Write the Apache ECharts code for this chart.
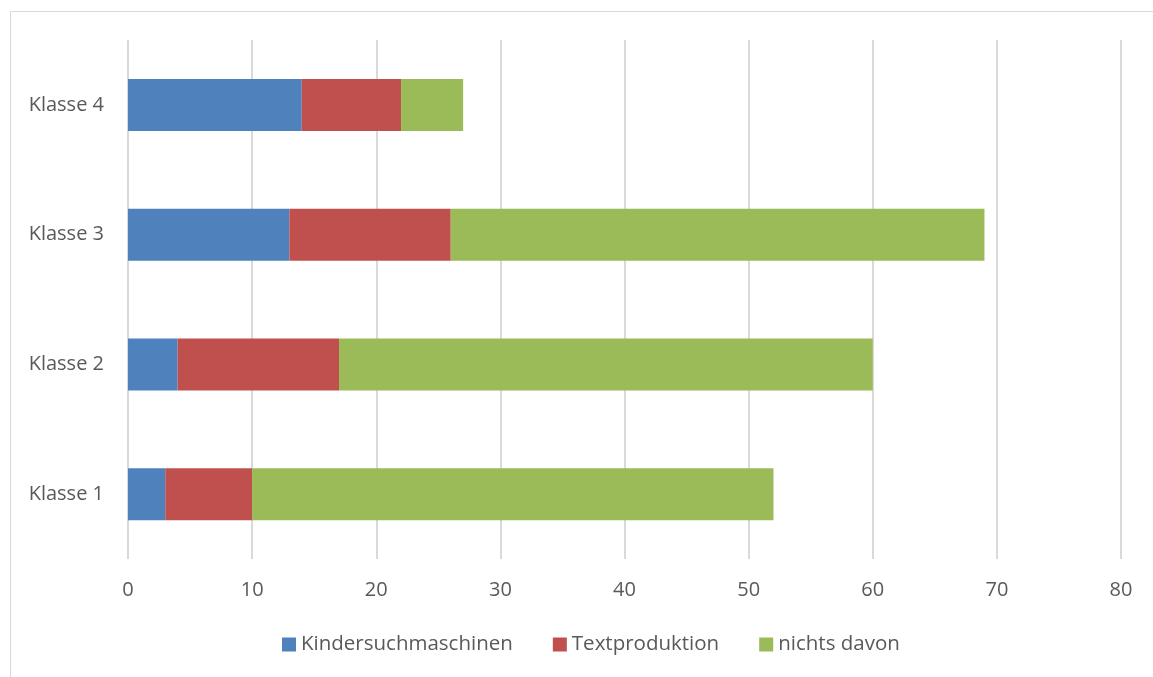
<!DOCTYPE html>
<html>
<head>
<meta charset="utf-8">
<script src="https://cdn.jsdelivr.net/npm/echarts@6/dist/echarts.min.js"></script>
<style>
  html, body { margin: 0; padding: 0; background: #fff; }
  #frame { position: absolute; left: 10px; top: 11px; width: 1160px; height: 700px;
           border: 1px solid #d9d9d9; box-sizing: border-box; }
  #chart { position: absolute; left: 0; top: 0; width: 1153px; height: 677px; }
</style>
</head>
<body>
<div id="frame"></div>
<div id="chart"></div>
<script>
const categories = ['Klasse 1', 'Klasse 2', 'Klasse 3', 'Klasse 4'];
const seriesNames = ['Kindersuchmaschinen', 'Textproduktion', 'nichts davon'];
const kindersuchmaschinen = [3, 4, 13, 14];
const textproduktion = [7, 13, 13, 8];
const nichtsDavon = [42, 43, 43, 5];
const colors = ['#4F81BD', '#C0504D', '#9BBB59'];

const font = '"Open Sans", "Noto Sans", sans-serif';
const values = [kindersuchmaschinen, textproduktion, nichtsDavon];

const chart = echarts.init(document.getElementById('chart'), null, { renderer: 'canvas' });
chart.setOption({
  animation: false,
  backgroundColor: 'transparent',
  textStyle: { fontFamily: font },
  grid: { left: 128, right: 32, top: 40, bottom: 118, containLabel: false },
  legend: {
    bottom: 17,
    left: 277,
    itemWidth: 14,
    itemHeight: 14,
    itemGap: 40,
    icon: 'rect',
    textStyle: { fontFamily: font, fontSize: 20.5, color: '#595959' },
    data: seriesNames
  },
  xAxis: {
    type: 'value',
    min: 0,
    max: 80,
    interval: 10,
    axisLine: { show: false },
    axisTick: { show: false },
    axisLabel: { fontFamily: font, fontSize: 20, color: '#595959', margin: 21 },
    splitLine: { show: true, lineStyle: { color: '#d9d9d9', width: 2 } }
  },
  yAxis: {
    type: 'category',
    data: categories,
    axisLine: { show: false },
    axisTick: { show: false },
    axisLabel: { fontFamily: font, fontSize: 20, color: '#595959', margin: 24 },
    splitLine: { show: false }
  },
  series: seriesNames.map((name, i) => ({
    name: name,
    type: 'bar',
    stack: 'total',
    barWidth: 52,
    itemStyle: { color: colors[i] },
    data: values[i]
  }))
});
</script>
</body>
</html>
